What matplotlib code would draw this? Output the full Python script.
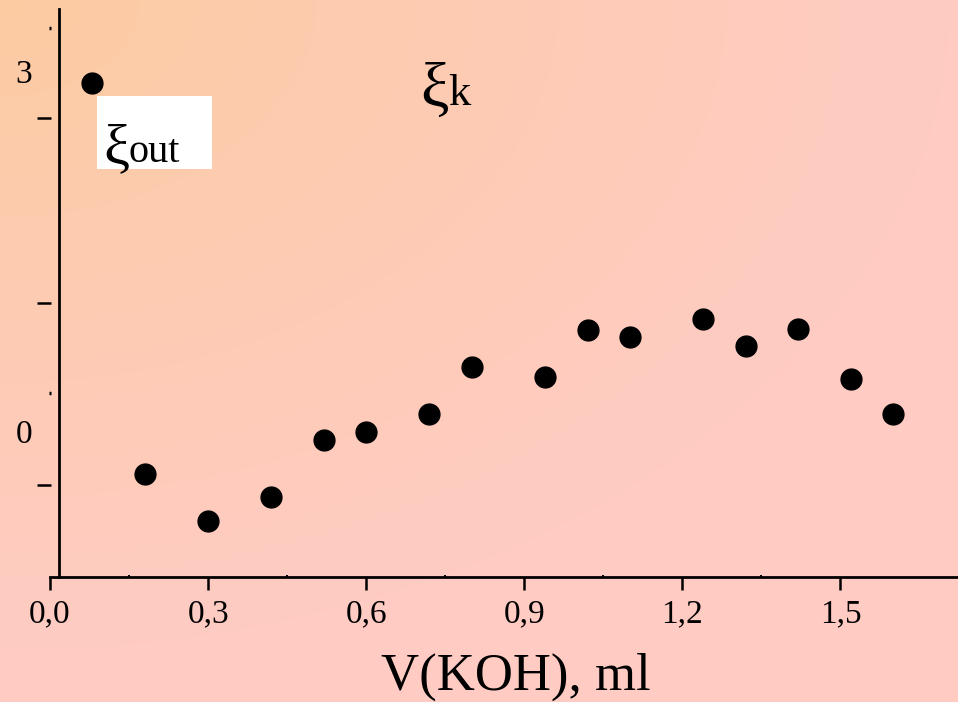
import numpy as np
import matplotlib
matplotlib.use("Agg")
from matplotlib import pyplot as plt
from matplotlib.patches import Rectangle

plt.rcParams["font.family"] = ["Liberation Serif", "DejaVu Serif"]

# data
v_koh = [0.08, 0.18, 0.30, 0.42, 0.52, 0.60, 0.72, 0.80,
         0.94, 1.02, 1.10, 1.24, 1.32, 1.42, 1.52, 1.60]
xi = [2.92, -0.34, -0.73, -0.53, -0.06, 0.01, 0.16, 0.55,
      0.47, 0.86, 0.80, 0.95, 0.73, 0.87, 0.45, 0.16]

x_ticks = [0.0, 0.3, 0.6, 0.9, 1.2, 1.5]
x_tick_labels = ["0,0", "0,3", "0,6", "0,9", "1,2", "1,5"]
x_minor = [0.15, 0.45, 0.75, 1.05, 1.35]
y_dash_ticks = [2.63, 1.085, -0.434]
y_dot_ticks = [3.38, 0.334]
y_label_values = [3, 0]
y_label_texts = ["3", "0"]

#%%
fig = plt.figure(figsize=(9.58, 7.02), dpi=100)

# background gradient (orange top-left -> pink)
bg = fig.add_axes([0, 0, 1, 1])
bg.axis("off")
h, w = 702, 958
yy, xx = np.mgrid[0:h, 0:w]
t = np.clip(np.sqrt((xx / 950.0) ** 2 + (yy / 650.0) ** 2), 0, 1)
c0 = np.array([252, 203, 162]) / 255.0
c1 = np.array([255, 204, 196]) / 255.0
img = c0[None, None, :] * (1 - t[..., None]) + c1[None, None, :] * t[..., None]
bg.imshow(img, aspect="auto", extent=[0, 1, 0, 1], origin="upper")

ax = fig.add_axes([0.0522, 0.178, 0.9478, 0.8087])
ax.patch.set_alpha(0)
ax.set_xlim(0, 1.723)
ax.set_ylim(-1.202, 3.537)

ax.plot(v_koh, xi, "o", color="black", markersize=15, zorder=3, clip_on=False)

# axes lines
ax.spines["top"].set_visible(False)
ax.spines["left"].set_position(("data", 0.0019))
ax.spines["left"].set_visible(False)
ax.spines["right"].set_position(("data", 0.0165))
ax.spines["right"].set_linewidth(2)
ax.spines["bottom"].set_linewidth(2)

ax.set_xticks(x_ticks)
ax.set_xticklabels(x_tick_labels)
ax.set_xticks(x_minor, minor=True)
ax.tick_params(axis="x", which="major", direction="out", length=9.5, width=1.8,
               pad=6, labelsize=24)
ax.tick_params(axis="x", which="minor", direction="in", length=1.5, width=1.5)

ax.yaxis.set_ticks_position("left")
ax.set_yticks(y_dash_ticks)
ax.set_yticklabels([])
ax.set_yticks(y_dot_ticks, minor=True)
ax.tick_params(axis="y", which="major", direction="out", length=10, width=1.8)
ax.tick_params(axis="y", which="minor", direction="out", length=1.5, width=2.5)

for val, txt in zip(y_label_values, y_label_texts):
    ax.annotate(txt, xy=(0, val), xycoords=("axes fraction", "data"),
                xytext=(-13, -1), textcoords="offset points",
                ha="right", va="center", fontsize=24)

ax.set_xlabel("V(KOH), ml", fontsize=38)
ax.xaxis.set_label_coords(0.513, -0.133)

# labels
ax.add_patch(Rectangle((0.0886, 2.204), 0.2194, 0.612, facecolor="white",
                       edgecolor="none", zorder=1))
ax.text(0.101, 2.255, "ξ", fontsize=42, va="baseline", ha="left", zorder=2)
ax.text(0.148, 2.265, "out", fontsize=29, va="baseline", ha="left", zorder=2)

ax.text(0.703, 2.72, "ξ", fontsize=46, va="baseline", ha="left")
ax.text(0.755, 2.74, "k", fontsize=32, va="baseline", ha="left")

fig.savefig("out.png", dpi=100)
